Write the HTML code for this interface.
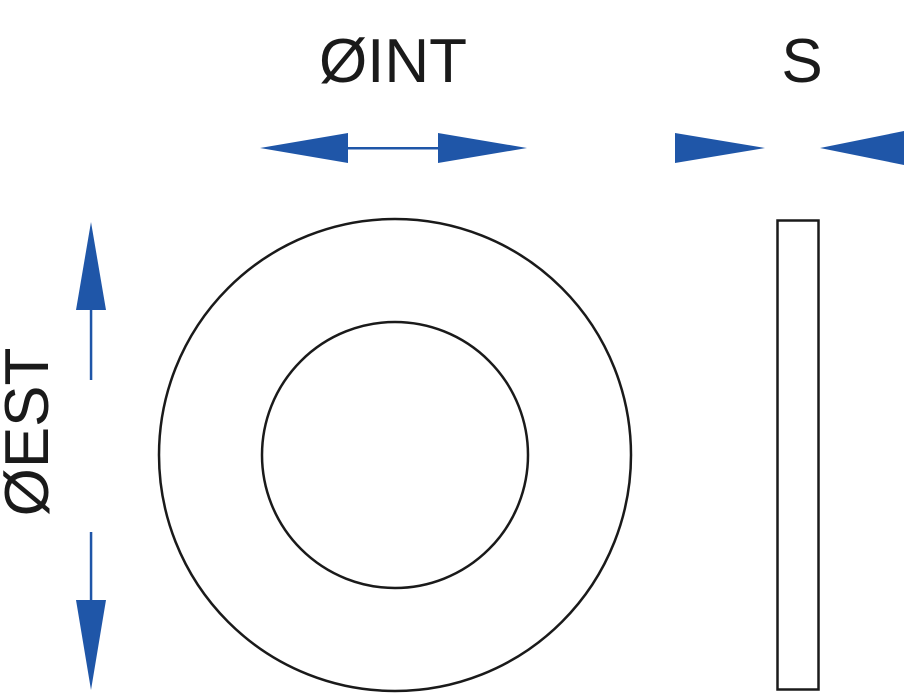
<!DOCTYPE html>
<html><head><meta charset="utf-8"><style>
html,body{margin:0;padding:0;background:#fff;}
svg{display:block;}
</style></head><body>
<svg width="904" height="699" viewBox="0 0 904 699" xmlns="http://www.w3.org/2000/svg">
<rect width="904" height="699" fill="#fff"/>
<g fill="none" stroke="#1a1a1a" stroke-width="2.5">
<circle cx="395" cy="455" r="236"/>
<circle cx="395" cy="455" r="133"/>
<rect x="777.5" y="220.5" width="41" height="469"/>
</g>
<g fill="#1f56a8" stroke="none">
<polygon points="260,148 348,133 348,163"/>
<polygon points="527,148 438,133 438,163"/>
<rect x="348" y="147" width="90" height="2.5"/>
<polygon points="765,148 675,133 675,163"/>
<polygon points="820,148 904,131 904,165"/>
<polygon points="91,222 76,310 106,310"/>
<rect x="89.8" y="310" width="2.5" height="70"/>
<rect x="89.8" y="532" width="2.5" height="70"/>
<polygon points="91,690 76,600 106,600"/>
</g>
<g font-family="Liberation Sans, sans-serif" font-size="62" fill="#1a1a1a">
<text x="393" y="82" text-anchor="middle">ØINT</text>
<text x="802" y="82" text-anchor="middle">S</text>
<text transform="translate(48,432) rotate(-90)" text-anchor="middle">ØEST</text>
</g>
</svg>
</body></html>
